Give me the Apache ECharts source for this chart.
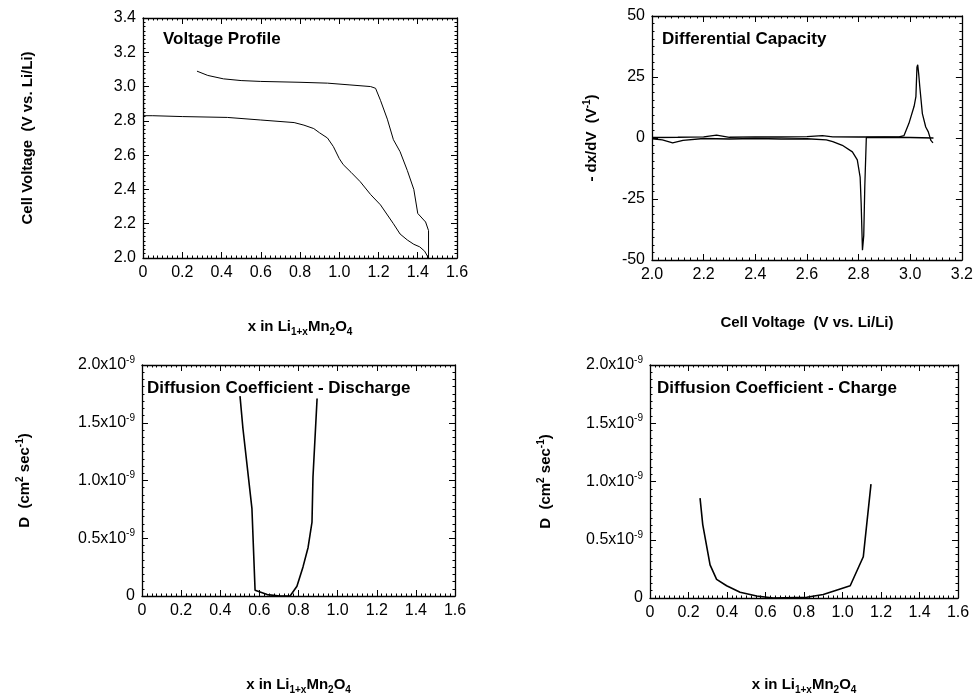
<!DOCTYPE html>
<html>
<head>
<meta charset="utf-8">
<script src="https://cdn.jsdelivr.net/npm/echarts@6/dist/echarts.min.js"></script>
<style>
  html, body { margin: 0; padding: 0; background: #fff; }
  #chart { width: 976px; height: 696px; }
</style>
</head>
<body>
<div id="chart"></div>
<script>
// Voltage profile: [x in Li(1+x)Mn2O4, cell voltage]
const profileCharge = [
  [0.275, 3.09], [0.33, 3.065], [0.41, 3.045], [0.5, 3.035], [0.6, 3.03], [0.8, 3.025],
  [0.94, 3.02], [1.05, 3.01], [1.16, 3.0], [1.185, 2.99], [1.21, 2.92], [1.245, 2.81],
  [1.276, 2.69], [1.31, 2.62], [1.347, 2.51], [1.38, 2.40], [1.40, 2.26], [1.44, 2.21],
  [1.455, 2.16], [1.455, 2.0]
];
const profileDischarge = [
  [0.003, 3.0], [0.003, 2.83], [0.05, 2.83], [0.2, 2.825], [0.43, 2.82], [0.6, 2.805], [0.77, 2.79],
  [0.82, 2.775], [0.87, 2.755], [0.90, 2.73], [0.94, 2.70], [0.97, 2.65], [1.0, 2.58],
  [1.02, 2.545], [1.06, 2.50], [1.107, 2.445], [1.16, 2.37], [1.21, 2.31], [1.276, 2.20],
  [1.31, 2.14], [1.347, 2.105], [1.38, 2.08], [1.41, 2.065], [1.435, 2.04], [1.455, 2.0]
];

// Differential capacity: [cell voltage, -dx/dV]
const dcapDischarge = [
  [3.09, 0], [3.0, 0.2], [2.9, 0.3], [2.83, 0.2], [2.826, 0], [2.824, -20], [2.82, -40],
  [2.815, -46], [2.81, -27], [2.806, -16], [2.795, -9], [2.776, -5.7], [2.737, -3],
  [2.70, -1.5], [2.675, -0.8], [2.6, -0.3], [2.5, -0.4], [2.4, -0.2], [2.3, -0.4],
  [2.2, -0.2], [2.12, -1], [2.08, -2], [2.04, -0.8], [2.0, -0.3]
];
const dcapCharge = [
  [2.0, 0.2], [2.1, 0.3], [2.2, 0.5], [2.25, 1.2], [2.3, 0.3], [2.4, 0.5], [2.5, 0.4],
  [2.6, 0.6], [2.66, 1.0], [2.7, 0.5], [2.8, 0.4], [2.9, 0.4], [2.957, 0.5], [2.976, 1],
  [2.995, 6], [3.015, 13], [3.022, 17], [3.026, 29], [3.029, 30], [3.033, 26], [3.037, 21],
  [3.047, 10], [3.06, 4.5], [3.07, 2.5], [3.08, -1], [3.088, -2]
];

// Diffusion coefficient, cm2/sec: [x, D]
const diffDischarge = [
  [0.501, 1.73e-9], [0.516, 1.45e-9], [0.562, 0.756e-9], [0.578, 0.05e-9], [0.64, 0.012e-9],
  [0.705, 0.0], [0.757, 0.0], [0.792, 0.084e-9], [0.823, 0.252e-9], [0.849, 0.42e-9],
  [0.869, 0.64e-9], [0.874, 1.03e-9], [0.895, 1.71e-9]
];
const diffCharge = [
  [0.26, 0.857e-9], [0.274, 0.63e-9], [0.312, 0.285e-9], [0.346, 0.16e-9], [0.398, 0.105e-9],
  [0.468, 0.05e-9], [0.554, 0.017e-9], [0.64, 0.0], [0.814, 0.006e-9], [0.90, 0.03e-9],
  [1.04, 0.105e-9], [1.108, 0.354e-9], [1.148, 0.977e-9]
];

const FONT = '"Liberation Sans", Arial, Helvetica, sans-serif';

const xNameLi = '{n|x in Li}{sub|1+x}{n|Mn}{sub|2}{n|O}{sub|4}';
const nameRich = {
  n: { fontFamily: FONT, fontWeight: 'bold', fontSize: 15, color: '#000' },
  sub: { fontFamily: FONT, fontWeight: 'bold', fontSize: 10, color: '#000', padding: [11, 0, 0, 0] },
  sup: { fontFamily: FONT, fontWeight: 'bold', fontSize: 10, color: '#000', padding: [0, 0, 9, 0] }
};

function fmtX(v) {
  return v === 0 ? '0' : v.toFixed(1);
}

function fmtD(v) {
  if (Math.abs(v) < 1e-15) return '{a|0}';
  return '{a|' + (v * 1e9).toFixed(1) + 'x10}{s|-9}';
}

const grids = [
  { left: 143, top: 18, width: 314, height: 240 },
  { left: 652, top: 16, width: 311, height: 244 },
  { left: 142, top: 365, width: 313, height: 238 },
  { left: 650, top: 365, width: 308, height: 241 }
];

const xAxes = [];
const yAxes = [];

function addAxes(gi, xo, yo) {
  const tickStyle = { color: '#000', width: 1 };
  const common = {
    gridIndex: gi,
    axisLine: { show: true, onZero: false, lineStyle: { color: '#000', width: 1.3 } },
    axisTick: { show: true, inside: true, length: 6, lineStyle: tickStyle },
    minorTick: { show: true, splitNumber: 8, length: 2.5, lineStyle: tickStyle },
    splitLine: { show: false }
  };
  const xLabel = {
    fontFamily: FONT, fontSize: 16, color: '#000', margin: 7,
    formatter: xo.formatter || fmtX
  };
  xAxes.push(Object.assign({}, common, {
    type: 'value', position: 'bottom', min: xo.min, max: xo.max, interval: xo.interval,
    axisLabel: xLabel,
    name: xo.name, nameLocation: 'middle', nameGap: xo.nameGap,
    nameTextStyle: { rich: nameRich }
  }));
  xAxes.push(Object.assign({}, common, {
    type: 'value', position: 'top', min: xo.min, max: xo.max, interval: xo.interval,
    axisLabel: { show: false }
  }));
  yAxes.push(Object.assign({}, common, {
    type: 'value', position: 'left', min: yo.min, max: yo.max, interval: yo.interval,
    axisLabel: Object.assign({ fontFamily: FONT, fontSize: 16, color: '#000', margin: 7 }, yo.label),
    name: yo.name, nameLocation: 'middle', nameGap: yo.nameGap, nameRotate: 90,
    nameTextStyle: { rich: nameRich }
  }));
  yAxes.push(Object.assign({}, common, {
    type: 'value', position: 'right', min: yo.min, max: yo.max, interval: yo.interval,
    axisLabel: { show: false }
  }));
}

const dLabel = {
  formatter: fmtD,
  rich: {
    a: { fontFamily: FONT, fontSize: 16, color: '#000' },
    s: { fontFamily: FONT, fontSize: 10, color: '#000', padding: [0, 0, 10, 0] }
  }
};

addAxes(0,
  { min: 0, max: 1.6, interval: 0.2, name: xNameLi, nameGap: 58 },
  { min: 2.0, max: 3.4, interval: 0.2, label: { formatter: (v) => v.toFixed(1) },
    name: '{n|Cell Voltage  (V vs. Li/Li)}', nameGap: 108 });
addAxes(1,
  { min: 2.0, max: 3.2, interval: 0.2, formatter: (v) => v.toFixed(1),
    name: '{n|Cell Voltage  (V vs. Li/Li)}', nameGap: 55 },
  { min: -50, max: 50, interval: 25, label: { formatter: (v) => String(v) },
    name: '{n|- dx/dV  (V}{sup|-1}{n|)}', nameGap: 51 });
addAxes(2,
  { min: 0, max: 1.6, interval: 0.2, name: xNameLi, nameGap: 78 },
  { min: 0, max: 2e-9, interval: 0.5e-9, label: dLabel,
    name: '{n|D  (cm}{sup|2}{n| sec}{sup|-1}{n|)}', nameGap: 108 });
addAxes(3,
  { min: 0, max: 1.6, interval: 0.2, name: xNameLi, nameGap: 76 },
  { min: 0, max: 2e-9, interval: 0.5e-9, label: dLabel,
    name: '{n|D  (cm}{sup|2}{n| sec}{sup|-1}{n|)}', nameGap: 95 });

function line(gi, data, width) {
  return {
    type: 'line', xAxisIndex: gi * 2, yAxisIndex: gi * 2, data: data,
    showSymbol: false, smooth: false, animation: false,
    lineStyle: { color: '#000', width: width }
  };
}

const titleStyle = { fontFamily: FONT, fontWeight: 'bold', fontSize: 17, color: '#000' };

const option = {
  backgroundColor: '#fff',
  animation: false,
  title: [
    { text: 'Voltage Profile', left: 158, top: 26, textStyle: titleStyle },
    { text: 'Differential Capacity', left: 657, top: 26, textStyle: titleStyle },
    { text: 'Diffusion Coefficient - Discharge', left: 142, top: 375, textStyle: titleStyle },
    { text: 'Diffusion Coefficient - Charge', left: 652, top: 375, textStyle: titleStyle }
  ],
  grid: grids,
  xAxis: xAxes,
  yAxis: yAxes,
  series: [
    line(0, profileCharge, 1),
    line(0, profileDischarge, 1),
    line(1, dcapDischarge, 1.3),
    line(1, dcapCharge, 1.3),
    line(2, diffDischarge, 1.6),
    line(3, diffCharge, 1.6)
  ]
};

const chart = echarts.init(document.getElementById('chart'));
chart.setOption(option);
</script>
</body>
</html>
